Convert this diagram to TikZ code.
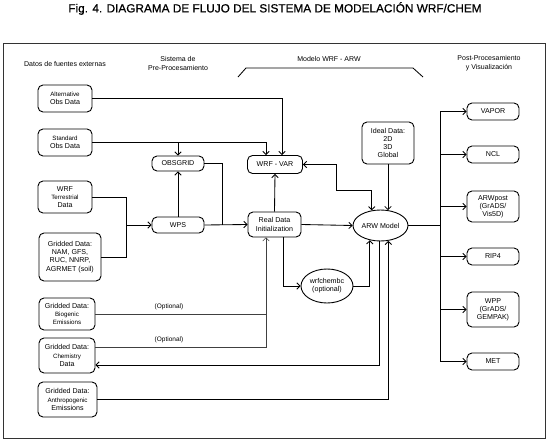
\documentclass[tikz,border=0pt]{standalone}
\usepackage{fontspec}
\setmainfont{Liberation Sans}
\usetikzlibrary{arrows.meta,shapes.geometric,calc}
\begin{document}
\begin{tikzpicture}[x=1pt,y=-1pt,
  >={Straight Barb[length=3.2pt,width=6.5pt]},
  box/.style={draw,rounded corners=5pt,line width=0.9pt,align=center,inner sep=0pt,font=\fontsize{7.1}{8.2}\selectfont},
  oval/.style={draw,ellipse,line width=0.9pt,align=center,inner sep=0pt,font=\fontsize{7.1}{8.2}\selectfont},
  conn/.style={line width=0.85pt},
  thinconn/.style={line width=0.55pt,black!75},
  hdr/.style={font=\fontsize{7}{8.7}\selectfont,align=center,inner sep=0pt},
  lbl/.style={font=\fontsize{6.5}{7}\selectfont,inner sep=0pt}]
\newcommand\smalltxt{\fontsize{6.2}{7.4}\selectfont}
\useasboundingbox (0,0) rectangle (550,442);
\node[font=\fontsize{11.8}{13}\selectfont,inner sep=0pt] (title) at (275,8.5) {\addfontfeature{FakeBold=0.6}Fig. 4. DIAGRAMA DE FLUJO DEL SISTEMA DE MODELACIÓN WRF/CHEM};
\draw[line width=0.9pt,black!80] (3,43) rectangle (545,438);

% headers
\node[hdr] (h1) at (65,64) {Datos de fuentes externas};
\node[hdr] (h2) at (178,63.5) {Sistema de\\Pre-Procesamiento};
\node[hdr] (h3) at (329,58.5) {Modelo WRF - ARW};
\node[hdr] (h4) at (489,63) {Post-Procesamiento\\y Visualización};
\draw[conn] (238,77) -- (246,68) -- (413,68) -- (423,77);

% left column
\node[box,minimum width=54pt,minimum height=27pt] (alt) at (65,98.5) {{\smalltxt Alternative}\\Obs Data};
\node[box,minimum width=54pt,minimum height=27pt] (std) at (65,142.5) {{\smalltxt Standard}\\Obs Data};
\node[box,minimum width=54pt,minimum height=32pt] (wrft) at (65,197) {WRF\\{\smalltxt Terrestrial}\\Data};
\node[box,minimum width=62pt,minimum height=48pt] (grid) at (70,257) {Gridded Data:\\NAM, GFS,\\RUC, NNRP,\\AGRMET (soil)};
\node[box,minimum width=56pt,minimum height=32pt] (bio) at (67,314) {Gridded Data:\\{\smalltxt Biogenic}\\{\smalltxt Emissions}};
\node[box,minimum width=56pt,minimum height=35pt] (chem) at (67,355.5) {Gridded Data:\\{\smalltxt Chemistry}\\Data};
\node[box,minimum width=59pt,minimum height=35pt] (anth) at (67.5,399.5) {Gridded Data:\\{\smalltxt Anthropogenic}\\Emissions};

% pre-processing
\node[box,minimum width=52pt,minimum height=15pt] (obsgrid) at (178,163.5) {OBSGRID};
\node[box,minimum width=52pt,minimum height=16pt] (wps) at (178,225) {WPS};

% model
\node[box,minimum width=55pt,minimum height=18pt] (wrfvar) at (275,164.5) {WRF - VAR};
\node[box,minimum width=53pt,minimum height=25pt] (real) at (274.5,224.5) {Real Data\\Initialization};
\node[oval,minimum width=55pt,minimum height=31pt] (arw) at (380.5,225.5) {ARW Model};
\node[box,minimum width=52pt,minimum height=42pt] (ideal) at (388,143) {Ideal Data:\\2D\\3D\\Global};
\node[oval,minimum width=52pt,minimum height=34pt] (chembc) at (327,286) {wrfchembc\\(optional)};

% post-processing
\node[box,minimum width=52pt,minimum height=17pt] (vapor) at (493,111.5) {VAPOR};
\node[box,minimum width=52pt,minimum height=17pt] (ncl) at (493,154.5) {NCL};
\node[box,minimum width=52pt,minimum height=31pt] (arwpost) at (493,206.5) {ARWpost\\(GrADS/\\Vis5D)};
\node[box,minimum width=52pt,minimum height=17pt] (rip) at (493,256.5) {RIP4};
\node[box,minimum width=52pt,minimum height=35pt] (wpp) at (493,309.5) {WPP\\(GrADS/\\GEMPAK)};
\node[box,minimum width=52pt,minimum height=17pt] (met) at (493,361.5) {MET};

% coordinates
\coordinate (j1) at (126,225);
\coordinate (j2) at (222,225);
\coordinate (c1) at (336,190);
\coordinate (bus) at (440,225.5);
\coordinate (jv) at ([xshift=-8.5pt]real.south);

% connectors
\draw[conn,->] (alt.east) -| ([xshift=7pt]wrfvar.north);
\draw[conn,->] (std.east) -| ([xshift=-9pt]wrfvar.north);
\draw[conn,->] (obsgrid.north |- std.east) -- (obsgrid.north);
\draw[conn] (wrft.east) -| (j1);
\draw[conn] (grid.east) -| (j1);
\draw[conn,->] (j1) -- (wps.west);
\draw[conn,->] (wps.north) -- (obsgrid.south);
\draw[conn] (obsgrid.east) -| (j2);
\draw[conn,->] (wps.east) -- (real.west);
\draw[conn,->] (real.north) -- (wrfvar.south);
\draw[conn,<->] (wrfvar.east) -| (c1) -| (arw.120);
\draw[conn,->] (ideal.south) -- (ideal.south |- arw.63);
\draw[conn,->] (real.east) -- (arw.west);
\draw[conn,->] ([xshift=8.5pt]real.south) |- (chembc.west);
\draw[conn,->] (chembc.east) -| (arw.234);
\draw[conn,->] ([xshift=-1.5pt]arw.south) |- ([yshift=-9.5pt]chem.east);
\draw[conn,->] (anth.east) -| (arw.297);
\draw[thinconn,->] ([yshift=8.5pt]chem.east) -| (jv);
\draw[thinconn] (bio.east) -- (bio.east -| jv);
\node[lbl] (opt1) at (169,307) {(Optional)};
\node[lbl] (opt2) at (169,340) {(Optional)};

% post bus
\draw[conn] (arw.east) -- (bus);
\draw[conn] (vapor.west -| bus) -- (met.west -| bus);
\foreach \n in {vapor,ncl,arwpost,rip,wpp,met}
  \draw[conn,->] (\n.west -| bus) -- (\n.west);
\end{tikzpicture}
\end{document}
